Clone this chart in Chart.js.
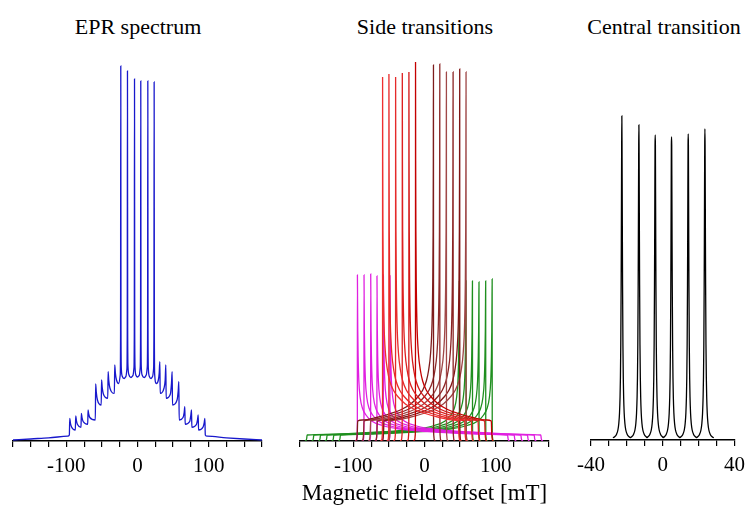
<!DOCTYPE html>
<html>
<head>
<meta charset="utf-8">
<script src="https://cdn.jsdelivr.net/npm/chart.js@4.4.1/dist/chart.umd.min.js"></script>
<style>
  body { margin: 0; background: #fff; width: 752px; height: 511px; position: relative; overflow: hidden;
         font-family: 'Liberation Serif', 'Times New Roman', serif; }
  canvas { position: absolute; top: 0; }
  .ttl { position: absolute; top: 14px; font-size: 22px; line-height: 26px; transform: translateX(-50%);
         white-space: nowrap; color: #000; }
</style>
</head>
<body>
<div class="ttl" style="left:138px">EPR spectrum</div>
<div class="ttl" style="left:425px">Side transitions</div>
<div class="ttl" style="left:664px">Central transition</div>
<canvas id="eprChart" width="280" height="511" style="left:0"></canvas>
<canvas id="sideChart" width="290" height="511" style="left:280px"></canvas>
<canvas id="centralChart" width="182" height="511" style="left:570px"></canvas>
<script>
// --- full EPR spectrum (field offset in mT, intensity in arb. units) ---
const eprX = [
  -175, -150, -125, -98, -95.8,
  -95.2, -94.3, -92.7, -87.4,   -86.8, -85.9, -84.3, -79.4,
  -78.9, -78.0, -76.4, -70.0,   -69.5, -68.6, -67.0, -59.3,
  -58.8, -57.9, -56.3, -51.0,   -50.5, -49.6, -48.0, -41.8,
  -41.3, -40.4, -38.8, -32.5,   -32.0, -31.1, -29.5, -26.5,
  -24.3, -23.8, -23.5, -23.2, -22.7, -21.3, -18.8,
  -16.3, -14.9, -14.4, -14.1, -13.8, -13.3, -11.9, -9.2,
  -6.4, -5.0, -4.5, -4.2, -3.9, -3.4, -2.0, 0.2,
  2.4, 3.8, 4.3, 4.6, 4.9, 5.4, 6.8, 9.5,
  12.3, 13.7, 14.2, 14.5, 14.8, 15.3, 16.7, 19.0,
  21.2, 22.6, 23.1, 23.4, 23.7, 24.2, 26.5,
  29.3, 30.5, 31.4, 31.9,   37.3, 38.9, 39.8, 40.3,
  46.2, 47.8, 48.7, 49.2,   55.6, 57.2, 58.1, 58.6,
  64.0, 65.6, 66.5, 67.0,   73.4, 75.0, 75.9, 76.4,
  82.8, 84.4, 85.3, 85.8,   92.2, 93.8, 94.7, 95.3,
  98, 125, 150, 175
];
const eprY = [
  1, 2, 3.2, 4.8, 6,
  22.7, 18, 14, 11,   25, 20.5, 16.5, 13.7,
  27.7, 23.3, 19.5, 16.7,   31, 27, 23.5, 21,
  57, 48.6, 41, 36,   61, 53.7, 47, 42.7,
  69.3, 60.7, 53, 47.7,   76, 68, 61, 57.5,
  66, 110, 375, 110, 72, 64.5, 62.5,
  64.5, 72, 110, 370, 110, 74, 66, 63.5,
  65.5, 73, 110, 362, 110, 73, 65.5, 64,
  65.5, 73, 110, 360, 110, 73, 65.5, 63.5,
  66, 74, 110, 360, 110, 72, 64.5, 62.5,
  64.5, 72, 110, 359, 110, 66, 57.5,
  61, 68, 79.3, 47.7,   53, 61, 76, 42.7,
  47, 58, 69.3, 36,   41, 50, 59.3, 21,
  23.5, 28.5, 34.3, 16.7,   19.5, 26, 31, 13.7,
  16.5, 21.5, 26, 11,   14, 18.5, 22.7, 6,
  4.8, 3.2, 2, 1
];

// --- side transitions: singularity position, its height, and the far edge of each powder pattern ---
const redSpikes = [-58.9, -50.0, -40.6, -31.2, -21.9, -12.6];
const redPeaks = [364, 367, 364, 368, 369, 379];
const redEdges = [47.6, 56.5, 65.9, 75.3, 84.6, 93.9];

const maroonSpikes = [12.6, 21.5, 30.8, 40.2, 49.5, 58.4];
const maroonPeaks = [376, 377, 369, 369, 372, 369];
const maroonEdges = [-93.9, -85.0, -75.7, -66.3, -57.0, -48.1];

const magentaSpikes = [-94.3, -85.0, -75.6, -66.8, -57.8, -48.5];
const magentaPeaks = [166, 166, 167, 165, 166, 165];
const magentaEdges = [116.8, 126.1, 135.5, 144.8, 154.2, 163.5];

const greenSpikes = [49.0, 58.4, 67.4, 76.6, 86.0, 95.1];
const greenPeaks = [160, 160, 160, 159, 160, 162];
const greenEdges = [-165.0, -155.6, -146.2, -136.9, -127.5, -118.2];

// shape: distance from the singularity -> intensity
const riseDx = [3, 1, 0.4, 0.1];
const innerRiseY = [0, 1.5, 6, 30];
const outerRiseY = [0, 1, 4, 18];
const innerDx = [0.2, 0.5, 1, 2, 4, 7, 10, 15, 22, 32, 45, 60, 80, 100];
const innerY = [280, 210, 160, 118, 88, 70, 60, 51, 44, 37, 31.5, 27.5, 23.5, 21];
const outerDx = [0.2, 0.5, 1, 2, 4, 7, 12, 20, 35, 55, 80, 110, 150, 185];
const outerY = [140, 110, 85, 60, 43, 33, 26, 20, 15.5, 12.5, 10.5, 9, 7.5, 6.7];
const edgeDx = [0, 0.6, 1.5, 3];
const innerEdgeY = [20, 8, 1.5, 0];
const outerEdgeY = [6, 2.5, 0.6, 0];

// --- central transition ---
const centralLines = [-22.8, -13.3, -4.2, 4.9, 14.2, 23.5];
const centralHeights = [324, 315, 305, 303, 306, 311];
const centralDx = [0.1, 0.2, 0.3, 0.4, 0.6, 0.8, 1.0, 1.3, 1.7, 2.2, 3.0, 4.0, 5.0];
const centralY = [295, 248, 198, 155, 95, 62, 43, 27, 16.5, 10, 5.5, 3.2, 2.2];

const redColors = ['#ee3030', '#e82828', '#e52a2a', '#dd2020', '#d41818', '#c40000'];
const maroonColors = ['#7d1c1c', '#8e2a2a', '#a04848', '#8b2323', '#801515', '#9c4444'];

function sideCurve(spike, peak, edge, decayDx, decayY, riseY, edgeY) {
    const dir = edge > spike ? 1 : -1;
    const span = Math.abs(edge - spike);
    const pts = [];
    riseDx.forEach((d, i) => pts.push({ x: spike - dir * d, y: riseY[i] }));
    pts.push({ x: spike, y: peak });
    decayDx.forEach((d, i) => { if (d < span - 2) pts.push({ x: spike + dir * d, y: decayY[i] }); });
    edgeDx.forEach((d, i) => pts.push({ x: edge + dir * d, y: edgeY[i] }));
    return dir > 0 ? pts : pts.reverse();
}

function centralCurve(c, h) {
    const pts = [];
    for (let i = centralDx.length - 1; i >= 0; i--) pts.push({ x: c - centralDx[i], y: centralY[i] });
    pts.push({ x: c, y: h });
    centralDx.forEach((d, i) => pts.push({ x: c + d, y: centralY[i] }));
    return pts;
}

function line(data, color) {
    return { data, borderColor: color, borderWidth: 1.3, pointRadius: 0,
             cubicInterpolationMode: 'monotone', fill: false };
}

const serif = "'Liberation Serif', 'Times New Roman', serif";

function xAxis(min, max, step, labelEvery, title) {
    return {
        type: 'linear', min, max,
        afterFit: s => { s.height = 70; },
        border: { display: true, color: '#000', width: 1.5 },
        grid: { drawOnChartArea: false, drawTicks: true, tickLength: 6, color: '#000', lineWidth: 1.2 },
        ticks: {
            stepSize: step, autoSkip: false, maxRotation: 0, padding: 7,
            color: '#000', font: { family: serif, size: 21 },
            callback: v => (v % labelEvery === 0 ? String(v) : '')
        },
        title: title ? { display: true, text: title, color: '#000', font: { family: serif, size: 23 },
                         padding: { top: 0, bottom: 3 } } : { display: false }
    };
}

function makeChart(id, datasets, xOpts, pad) {
    return new Chart(document.getElementById(id), {
        type: 'line',
        data: { datasets },
        options: {
            responsive: false,
            animation: false,
            layout: { padding: pad },
            plugins: { legend: { display: false }, tooltip: { enabled: false } },
            scales: {
                x: xOpts,
                y: { display: false, min: 0, max: 400 }
            }
        }
    });
}

// EPR spectrum
makeChart('eprChart',
    [line(eprX.map((x, i) => ({ x, y: eprY[i] })), '#1818cc')],
    xAxis(-175, 175, 25, 100),
    { left: 13, right: 18, top: 41, bottom: 0 });

// Side transitions
const sideSets = [];
redSpikes.forEach((s, i) => sideSets.push(line(sideCurve(s, redPeaks[i], redEdges[i], innerDx, innerY, innerRiseY, innerEdgeY), redColors[i])));
maroonSpikes.forEach((s, i) => sideSets.push(line(sideCurve(s, maroonPeaks[i], maroonEdges[i], innerDx, innerY, innerRiseY, innerEdgeY), maroonColors[i])));
magentaSpikes.forEach((s, i) => sideSets.push(line(sideCurve(s, magentaPeaks[i], magentaEdges[i], outerDx, outerY, outerRiseY, outerEdgeY), '#e020e0')));
greenSpikes.forEach((s, i) => sideSets.push(line(sideCurve(s, greenPeaks[i], greenEdges[i], outerDx, outerY, outerRiseY, outerEdgeY), '#1f8f1f')));

makeChart('sideChart', sideSets,
    xAxis(-175, 175, 25, 100, 'Magnetic field offset [mT]'),
    { left: 20, right: 21, top: 41, bottom: 0 });

// Central transition
makeChart('centralChart',
    centralLines.map((c, i) => line(centralCurve(c, centralHeights[i]), '#000')),
    xAxis(-40, 40, 10, 40),
    { left: 18, right: 13, top: 40, bottom: 1 });
</script>
</body>
</html>
